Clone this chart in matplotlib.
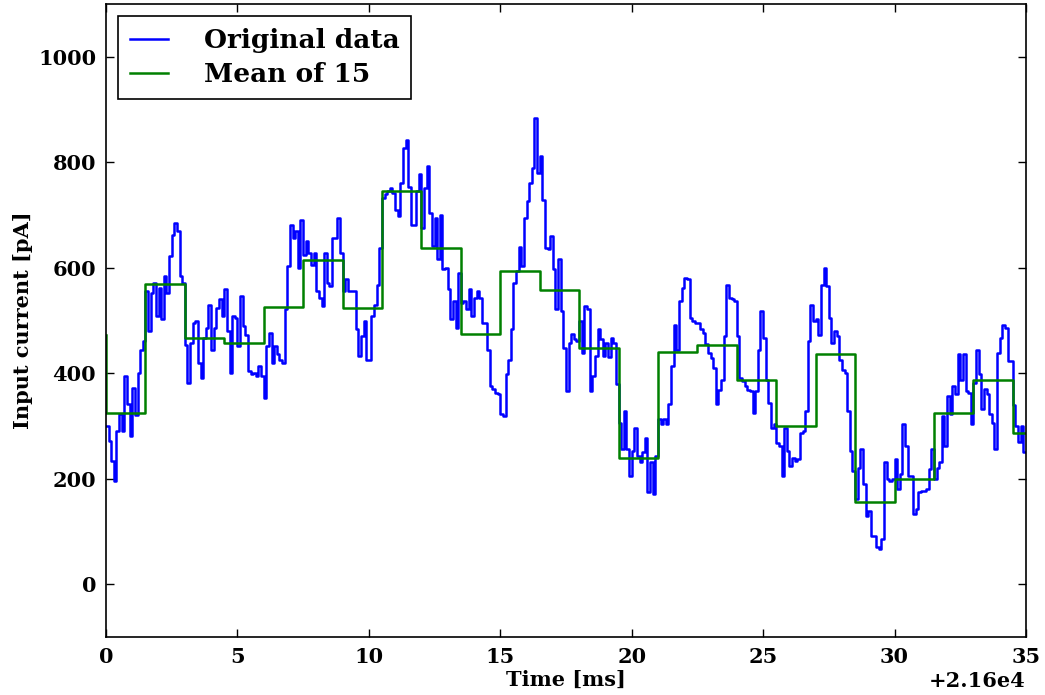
import numpy as np
import matplotlib
matplotlib.use("Agg")
import matplotlib.pyplot as plt
from matplotlib.ticker import ScalarFormatter

# time origin of the record [ms], samples every 0.1 ms
t0 = 21600.0
dt = 0.1

# original input current [pA], one value per 0.1 ms
current = [
    300, 272, 234, 196, 290, 322, 290, 394, 341, 281, 372, 320, 401, 445, 461,
    555, 480, 552, 571, 508, 562, 502, 584, 552, 622, 663, 685, 669, 584, 571,
    454, 382, 457, 496, 499, 420, 391, 467, 486, 530, 445, 486, 524, 540, 508,
    559, 480, 401, 508, 505, 451, 546, 489, 473, 404, 398, 401, 394, 413, 394,
    354, 451, 477, 420, 451, 436, 426, 420, 521, 603, 682, 657, 669, 600, 691,
    625, 650, 628, 606, 628, 556, 543, 527, 628, 571, 565, 657, 657, 695, 628,
    556, 578, 556, 556, 556, 483, 433, 471, 499, 426, 426, 508, 530, 568, 638,
    732, 739, 745, 751, 742, 710, 698, 761, 827, 843, 754, 682, 682, 745, 777,
    676, 751, 792, 704, 641, 695, 616, 700, 597, 600, 560, 502, 537, 486, 590,
    534, 537, 521, 559, 508, 543, 556, 543, 496, 496, 445, 376, 370, 363, 360,
    322, 319, 398, 426, 483, 571, 594, 640, 603, 694, 726, 760, 790, 884, 780,
    811, 729, 638, 635, 660, 597, 521, 616, 518, 448, 366, 458, 474, 464, 461,
    499, 439, 527, 521, 366, 395, 433, 483, 464, 433, 458, 430, 467, 458, 379,
    306, 256, 329, 256, 205, 253, 297, 243, 231, 250, 278, 174, 231, 171, 243,
    313, 303, 313, 303, 341, 414, 492, 445, 537, 562, 581, 578, 505, 499, 496,
    496, 483, 477, 455, 439, 429, 410, 341, 369, 388, 470, 568, 543, 540, 537,
    470, 391, 385, 376, 369, 366, 325, 366, 445, 518, 467, 388, 344, 297, 303,
    268, 262, 205, 297, 253, 224, 240, 234, 237, 287, 291, 328, 461, 530, 499,
    502, 473, 568, 600, 565, 505, 458, 480, 470, 426, 407, 401, 328, 253, 215,
    161, 221, 256, 190, 130, 139, 92, 92, 70, 67, 85, 231, 199, 196, 199,
    237, 180, 209, 303, 262, 205, 205, 133, 142, 174, 177, 177, 180, 218, 256,
    199, 221, 231, 319, 262, 357, 322, 376, 360, 436, 388, 436, 366, 363, 303,
    382, 445, 398, 332, 370, 360, 322, 306, 256, 439, 467, 492, 486, 423, 423,
    340, 300, 270, 300, 250,
]

# mean over blocks of 15 samples (1.5 ms); first value is the starting point
mean_times = [0, 1.5, 3, 4.5, 6, 7.5, 9, 10.5, 12, 13.5, 15, 16.5, 18,
              19.5, 21, 22.5, 24, 25.5, 27, 28.5, 30, 31.5, 33, 34.5, 35]
mean_current = [472, 325, 570, 467, 458, 525, 615, 523, 745, 638, 475, 593,
                558, 448, 240, 440, 453, 387, 300, 437, 155, 200, 325, 387, 287]

plt.rcParams['font.family'] = ['DejaVu Serif']
plt.rcParams['font.weight'] = 'bold'
plt.rcParams['font.size'] = 15

fig = plt.figure(figsize=(10.45, 6.95), dpi=100)
ax = fig.add_axes([0.1014, 0.0835, 0.8804, 0.9107])

y = np.array(current, dtype=float)
t = t0 + dt * np.arange(len(y) + 1)
y = np.append(y, y[-1])
ax.plot(t, y, color='#0000ff', lw=1.8, drawstyle='steps-post', label='Original data')

tm = t0 + np.array(mean_times)
ax.plot(tm, mean_current, color='#008000', lw=1.8, drawstyle='steps-pre', label='Mean of 15')

ax.set_xlim(t0, t0 + 35)
ax.set_ylim(-100, 1100)
ax.set_yticks(range(0, 1001, 200))
ax.set_xticks(t0 + np.arange(0, 36, 5))
fmt = ScalarFormatter(useOffset=t0)
ax.xaxis.set_major_formatter(fmt)
ax.xaxis.get_offset_text().set_fontweight('bold')
ax.xaxis.get_offset_text().set_fontsize(15)
ax.tick_params(direction='in', top=True, right=True, length=6, width=1, pad=7)
for s in ax.spines.values():
    s.set_linewidth(1.2)

ax.set_xlabel('Time [ms]', fontweight='bold', labelpad=2)
ax.set_ylabel('Input current [pA]', fontweight='bold')

leg = ax.legend(loc='upper left', fontsize=19, fancybox=False, framealpha=1,
                edgecolor='black', borderaxespad=0.45, handlelength=1.45,
                handletextpad=1.35, borderpad=0.45, labelspacing=0.35)
leg.get_frame().set_linewidth(1.2)

fig.savefig('out.png', dpi=100, facecolor='white')
